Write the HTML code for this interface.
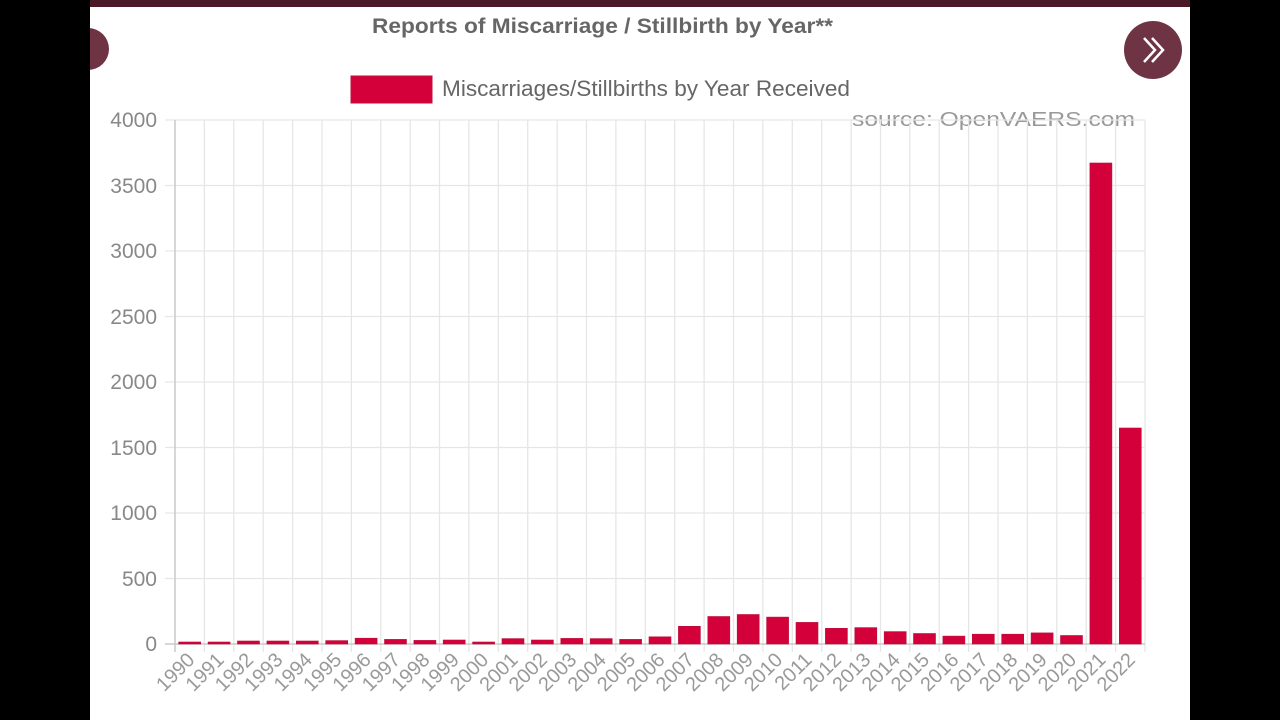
<!DOCTYPE html>
<html><head><meta charset="utf-8"><style>
html,body{margin:0;padding:0;background:#000;width:1280px;height:720px;overflow:hidden}
svg{display:block}
</style></head><body>
<svg width="1280" height="720" xmlns="http://www.w3.org/2000/svg" font-family="Liberation Sans, sans-serif">
<rect x="0" y="0" width="1280" height="720" fill="#000"/>
<rect x="90" y="0" width="1100" height="720" fill="#fff"/>
<rect x="90" y="0" width="1100" height="7" fill="#4a1a26"/>
<circle cx="88" cy="49" r="21" fill="#6e3444"/>
<rect x="60" y="20" width="30" height="60" fill="#000"/>
<circle cx="1153" cy="50" r="29" fill="#6e3444"/>
<path d="M1144 38 L1155 50 L1144 62 M1152 38 L1163 50 L1152 62" stroke="#fff" stroke-width="2.5" fill="none"/>
<text x="372" y="33" font-size="21" font-weight="bold" fill="#666" textLength="461" lengthAdjust="spacingAndGlyphs">Reports of Miscarriage / Stillbirth by Year**</text>
<rect x="351" y="76" width="81" height="27" fill="#d4003a" stroke="#c0103a"/>
<text x="442" y="96" font-size="22" fill="#666" textLength="408" lengthAdjust="spacingAndGlyphs">Miscarriages/Stillbirths by Year Received</text>
<text x="852" y="126" font-size="20" fill="#999" textLength="283" lengthAdjust="spacingAndGlyphs">source: OpenVAERS.com</text>
<g stroke="#e6e6e6" stroke-width="1.3">
<line x1="165" y1="120" x2="1145" y2="120"/><line x1="165" y1="185.5" x2="1145" y2="185.5"/><line x1="165" y1="251" x2="1145" y2="251"/><line x1="165" y1="316.5" x2="1145" y2="316.5"/><line x1="165" y1="382" x2="1145" y2="382"/><line x1="165" y1="447.5" x2="1145" y2="447.5"/><line x1="165" y1="513" x2="1145" y2="513"/><line x1="165" y1="578.5" x2="1145" y2="578.5"/><line x1="165" y1="644" x2="1145" y2="644"/>
<line x1="175" y1="120" x2="175" y2="652"/><line x1="204.4" y1="120" x2="204.4" y2="652"/><line x1="233.8" y1="120" x2="233.8" y2="652"/><line x1="263.2" y1="120" x2="263.2" y2="652"/><line x1="292.6" y1="120" x2="292.6" y2="652"/><line x1="322" y1="120" x2="322" y2="652"/><line x1="351.4" y1="120" x2="351.4" y2="652"/><line x1="380.8" y1="120" x2="380.8" y2="652"/><line x1="410.2" y1="120" x2="410.2" y2="652"/><line x1="439.5" y1="120" x2="439.5" y2="652"/><line x1="468.9" y1="120" x2="468.9" y2="652"/><line x1="498.3" y1="120" x2="498.3" y2="652"/><line x1="527.7" y1="120" x2="527.7" y2="652"/><line x1="557.1" y1="120" x2="557.1" y2="652"/><line x1="586.5" y1="120" x2="586.5" y2="652"/><line x1="615.9" y1="120" x2="615.9" y2="652"/><line x1="645.3" y1="120" x2="645.3" y2="652"/><line x1="674.7" y1="120" x2="674.7" y2="652"/><line x1="704.1" y1="120" x2="704.1" y2="652"/><line x1="733.5" y1="120" x2="733.5" y2="652"/><line x1="762.9" y1="120" x2="762.9" y2="652"/><line x1="792.3" y1="120" x2="792.3" y2="652"/><line x1="821.7" y1="120" x2="821.7" y2="652"/><line x1="851.1" y1="120" x2="851.1" y2="652"/><line x1="880.5" y1="120" x2="880.5" y2="652"/><line x1="909.8" y1="120" x2="909.8" y2="652"/><line x1="939.2" y1="120" x2="939.2" y2="652"/><line x1="968.6" y1="120" x2="968.6" y2="652"/><line x1="998" y1="120" x2="998" y2="652"/><line x1="1027.4" y1="120" x2="1027.4" y2="652"/><line x1="1056.8" y1="120" x2="1056.8" y2="652"/><line x1="1086.2" y1="120" x2="1086.2" y2="652"/><line x1="1115.6" y1="120" x2="1115.6" y2="652"/><line x1="1145" y1="120" x2="1145" y2="652"/>
</g>
<line x1="175" y1="120" x2="175" y2="652" stroke="#ccc" stroke-width="1.5"/>
<line x1="165" y1="644" x2="1145" y2="644" stroke="#ccc" stroke-width="1.5"/>
<g font-size="21" fill="#888" text-anchor="end">
<text x="157" y="127">4000</text><text x="157" y="193">3500</text><text x="157" y="258">3000</text><text x="157" y="324">2500</text><text x="157" y="389">2000</text><text x="157" y="455">1500</text><text x="157" y="520">1000</text><text x="157" y="586">500</text><text x="157" y="651">0</text>
</g>
<g fill="#d4003a" stroke="#b8103a" stroke-width="0.6">
<rect x="178.7" y="642" width="22" height="2"/><rect x="208.1" y="642" width="22" height="2"/><rect x="237.5" y="641" width="22" height="3"/><rect x="266.9" y="641" width="22" height="3"/><rect x="296.3" y="641" width="22" height="3"/><rect x="325.7" y="640.6" width="22" height="3.4"/><rect x="355.1" y="638.2" width="22" height="5.8"/><rect x="384.5" y="639.4" width="22" height="4.6"/><rect x="413.9" y="640.4" width="22" height="3.6"/><rect x="443.2" y="640" width="22" height="4"/><rect x="472.6" y="642" width="22" height="2"/><rect x="502" y="638.6" width="22" height="5.4"/><rect x="531.4" y="640" width="22" height="4"/><rect x="560.8" y="638.4" width="22" height="5.6"/><rect x="590.2" y="638.6" width="22" height="5.4"/><rect x="619.6" y="639.4" width="22" height="4.6"/><rect x="649" y="636.8" width="22" height="7.2"/><rect x="678.4" y="626.3" width="22" height="17.7"/><rect x="707.8" y="616.5" width="22" height="27.5"/><rect x="737.2" y="614.5" width="22" height="29.5"/><rect x="766.6" y="617.1" width="22" height="26.9"/><rect x="796" y="622.4" width="22" height="21.6"/><rect x="825.4" y="628.3" width="22" height="15.7"/><rect x="854.8" y="627.6" width="22" height="16.4"/><rect x="884.2" y="631.6" width="22" height="12.4"/><rect x="913.5" y="633.5" width="22" height="10.5"/><rect x="942.9" y="636.1" width="22" height="7.9"/><rect x="972.3" y="634.2" width="22" height="9.8"/><rect x="1001.7" y="634.2" width="22" height="9.8"/><rect x="1031.1" y="632.9" width="22" height="11.1"/><rect x="1060.5" y="635.5" width="22" height="8.5"/><rect x="1089.9" y="163" width="22" height="481"/><rect x="1119.3" y="428" width="22" height="216"/>
</g>
<g font-size="20" fill="#999" text-anchor="end">
<text transform="translate(195.7,661) rotate(-45)">1990</text><text transform="translate(225.1,661) rotate(-45)">1991</text><text transform="translate(254.5,661) rotate(-45)">1992</text><text transform="translate(283.9,661) rotate(-45)">1993</text><text transform="translate(313.3,661) rotate(-45)">1994</text><text transform="translate(342.7,661) rotate(-45)">1995</text><text transform="translate(372.1,661) rotate(-45)">1996</text><text transform="translate(401.5,661) rotate(-45)">1997</text><text transform="translate(430.9,661) rotate(-45)">1998</text><text transform="translate(460.2,661) rotate(-45)">1999</text><text transform="translate(489.6,661) rotate(-45)">2000</text><text transform="translate(519,661) rotate(-45)">2001</text><text transform="translate(548.4,661) rotate(-45)">2002</text><text transform="translate(577.8,661) rotate(-45)">2003</text><text transform="translate(607.2,661) rotate(-45)">2004</text><text transform="translate(636.6,661) rotate(-45)">2005</text><text transform="translate(666,661) rotate(-45)">2006</text><text transform="translate(695.4,661) rotate(-45)">2007</text><text transform="translate(724.8,661) rotate(-45)">2008</text><text transform="translate(754.2,661) rotate(-45)">2009</text><text transform="translate(783.6,661) rotate(-45)">2010</text><text transform="translate(813,661) rotate(-45)">2011</text><text transform="translate(842.4,661) rotate(-45)">2012</text><text transform="translate(871.8,661) rotate(-45)">2013</text><text transform="translate(901.2,661) rotate(-45)">2014</text><text transform="translate(930.5,661) rotate(-45)">2015</text><text transform="translate(959.9,661) rotate(-45)">2016</text><text transform="translate(989.3,661) rotate(-45)">2017</text><text transform="translate(1018.7,661) rotate(-45)">2018</text><text transform="translate(1048.1,661) rotate(-45)">2019</text><text transform="translate(1077.5,661) rotate(-45)">2020</text><text transform="translate(1106.9,661) rotate(-45)">2021</text><text transform="translate(1136.3,661) rotate(-45)">2022</text>
</g>
</svg>
</body></html>
